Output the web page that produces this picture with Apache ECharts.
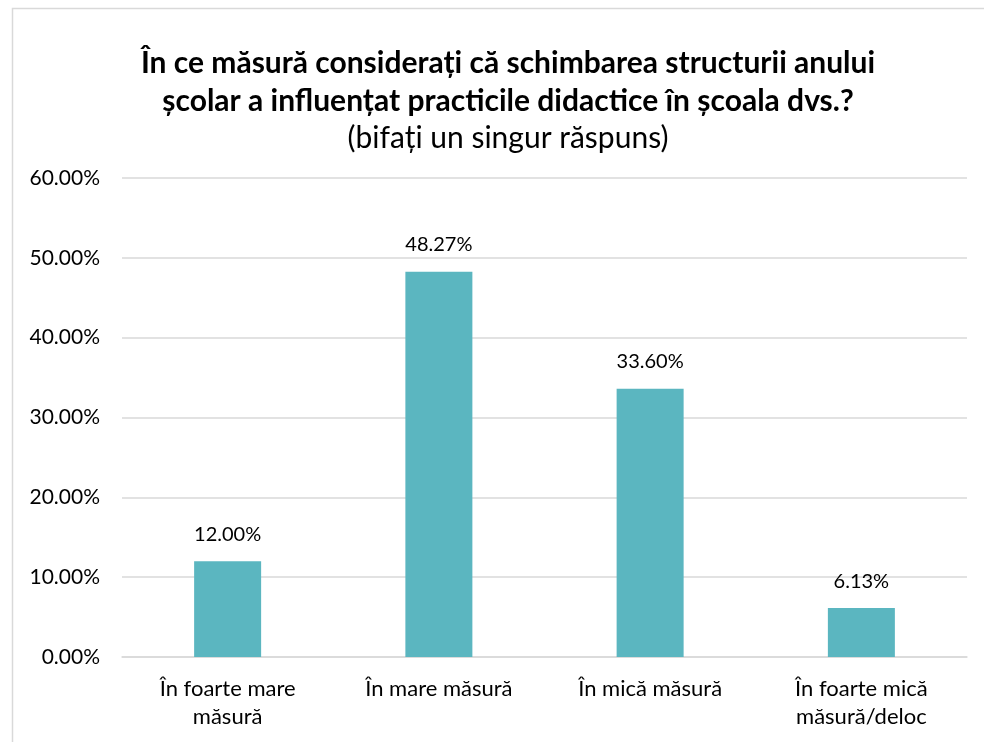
<!DOCTYPE html>
<html>
<head>
<meta charset="utf-8">
<script src="https://cdn.jsdelivr.net/npm/echarts@6/dist/echarts.min.js"></script>
<style>
  html, body { margin: 0; padding: 0; background: #ffffff; }
  #chart { width: 984px; height: 742px; }
</style>
</head>
<body>
<div id="chart"></div>
<script>
// Survey answers and their shares (percent)
const categories = [
  'În foarte mare\nmăsură',
  'În mare măsură',
  'În mică măsură',
  'În foarte mică\nmăsură/deloc'
];
const shares = [12.00, 48.27, 33.60, 6.13];
const yTicks = [0, 10, 20, 30, 40, 50, 60];

const titleLines = [
  'În ce măsură considerați că schimbarea structurii anului',
  'școlar a influențat practicile didactice în școala dvs.?'
];
const subtitle = '(bifați un singur răspuns)';

const FONT = 'Lato, "Open Sans", sans-serif';
const chart = echarts.init(document.getElementById('chart'), null, { renderer: 'canvas' });

chart.setOption({
  backgroundColor: '#ffffff',
  animation: false,
  graphic: [
    {
      type: 'rect',
      shape: { x: 12.5, y: 8.5, width: 990, height: 760 },
      style: { fill: 'none', stroke: '#d9d9d9', lineWidth: 1.5 },
      silent: true
    }
  ],
  title: {
    text: titleLines.join('\n'),
    subtext: subtitle,
    left: 503,
    top: 39,
    textAlign: 'center',
    itemGap: 3,
    textStyle: {
      fontFamily: FONT,
      fontSize: 30,
      fontWeight: 'bold',
      color: '#000000',
      lineHeight: 38
    },
    subtextStyle: {
      fontFamily: FONT,
      fontSize: 30,
      color: '#000000',
      lineHeight: 30
    }
  },
  grid: { left: 122, right: 17, top: 178, bottom: 85, containLabel: false },
  xAxis: {
    type: 'category',
    data: categories,
    axisLine: { show: true, lineStyle: { color: '#d9d9d9', width: 1.5 } },
    axisTick: { show: false },
    axisLabel: {
      fontFamily: FONT,
      fontSize: 22,
      color: '#000000',
      lineHeight: 28,
      margin: 18,
      interval: 0
    }
  },
  yAxis: {
    type: 'value',
    min: yTicks[0],
    max: yTicks[yTicks.length - 1],
    interval: 10,
    axisLine: { show: false },
    axisTick: { show: false },
    splitLine: { lineStyle: { color: '#d9d9d9', width: 1.5 } },
    axisLabel: {
      fontFamily: FONT,
      fontSize: 21,
      color: '#000000',
      margin: 22,
      formatter: v => v.toFixed(2) + '%'
    }
  },
  series: [
    {
      type: 'bar',
      data: shares,
      barWidth: 67,
      itemStyle: { color: '#5bb6c0' },
      label: {
        show: true,
        position: 'top',
        distance: 17,
        fontFamily: FONT,
        fontSize: 20,
        color: '#000000',
        formatter: p => p.value.toFixed(2) + '%'
      }
    }
  ]
});
</script>
</body>
</html>
